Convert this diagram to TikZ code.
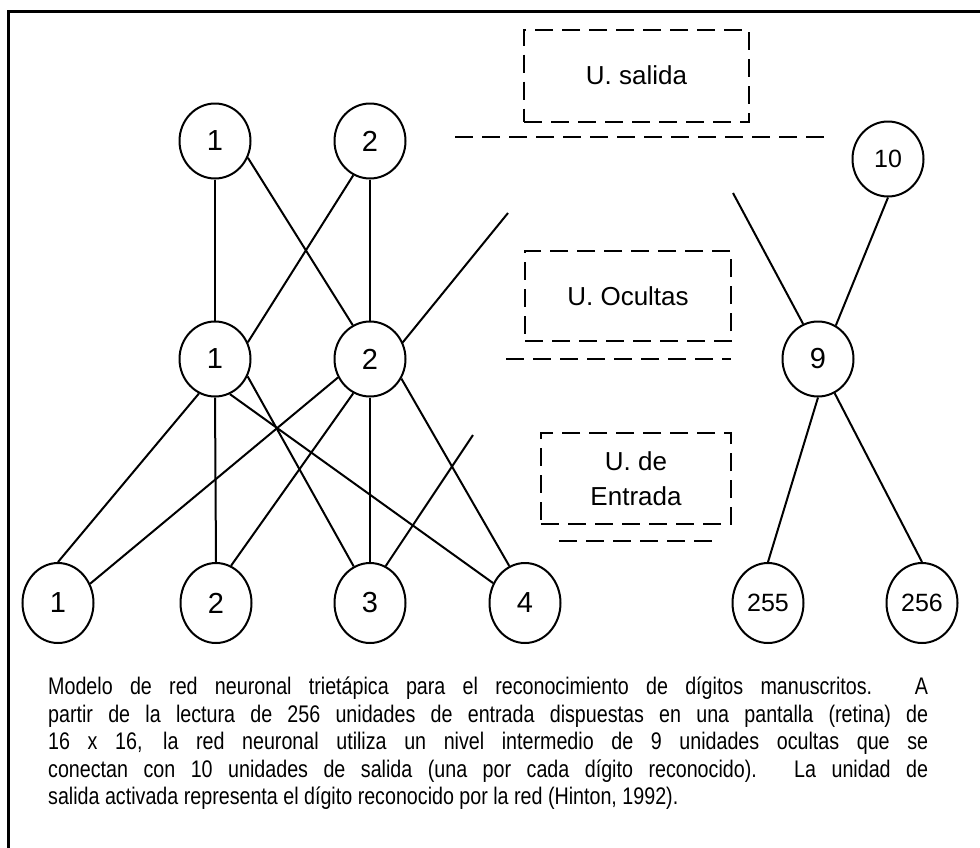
\documentclass[tikz,border=0pt]{standalone}
\usepackage{fontspec}
\setmainfont{Liberation Sans}
\newfontfamily\capfont[FakeStretch=0.82]{Liberation Sans}
\usetikzlibrary{shapes.geometric}
\begin{document}
\begin{tikzpicture}[x=1pt,y=-1pt,
  neuron/.style={ellipse,draw,line width=2pt,minimum width=71pt,minimum height=75pt,inner sep=0pt,font=\fontsize{29}{29}\selectfont},
  inneuron/.style={neuron,minimum height=80pt},
  smalllabel/.style={font=\fontsize{25}{25}\selectfont},
  conn/.style={line width=2pt},
  dashbox/.style={draw,line width=2pt,dash pattern=on 18pt off 9pt,inner sep=0pt,font=\fontsize{26}{35}\selectfont,align=center},
  dashline/.style={line width=2pt,dash pattern=on 18pt off 9pt},
  frame/.style={line width=3pt}
]
\useasboundingbox (0,0) rectangle (980,847);
\fill[white] (0,0) rectangle (980,847);
\draw[frame] (983,11) -- (8,11) -- (8,850);

% output layer
\node[neuron] (t1) at (215,141) {1};
\node[neuron] (t2) at (370,141) {2};
\node[neuron,smalllabel] (o10) at (888,159) {10};
% hidden layer
\node[neuron] (h1) at (215,359) {1};
\node[neuron] (h2) at (370,359) {2};
\node[neuron] (h9) at (818,359) {9};
% input layer
\node[inneuron] (i1) at (58,603) {1};
\node[inneuron] (i2) at (216,603) {2};
\node[inneuron] (i3) at (370,603) {3};
\node[inneuron] (i4) at (525,603) {4};
\node[inneuron,smalllabel] (i255) at (768,603) {255};
\node[inneuron,smalllabel] (i256) at (922,603) {256};

% dashed boxes
\node[dashbox,minimum width=225pt,minimum height=92pt] (bs) at (636.5,75.5) {U. salida};
\node[dashbox,minimum width=206pt,minimum height=90pt] (bo) at (628,296) {U. Ocultas};
\node[dashbox,minimum width=190pt,minimum height=91pt] (be) at (636,478.5) {U. de\\Entrada};
\draw[dashline] (455,137) -- (827,137);
\draw[dashline] (506,359) -- (731,359);
\draw[dashline] (559,541) -- (715,541);

% free ends
\coordinate (f1) at (508,213);
\coordinate (f2) at (733,193);
\coordinate (f3) at (473,435);

% connectors output-hidden
\draw[conn] (t1.south) -- (h1.north);
\draw[conn] (t1.-27) -- (h2.117);
\draw[conn] (t2.-116) -- (h1.27);
\draw[conn] (t2.south) -- (h2.north);
\draw[conn] (h2.27) -- (f1);
\draw[conn] (o10.south) -- (h9.62);
\draw[conn] (f2) -- (h9.113);
% hidden-input
\draw[conn] (h1.-115) -- (i1.north);
\draw[conn] (h1.south) -- (i2.north);
\draw[conn] (h1.-28) -- (i3.114);
\draw[conn] (h1.-67) -- (i4.148);
\draw[conn] (h2.-150) -- (i1.31);
\draw[conn] (h2.-116) -- (i2.68);
\draw[conn] (h2.south) -- (i3.north);
\draw[conn] (h2.-32) -- (i4.113);
\draw[conn] (i3.67) -- (f3);
\draw[conn] (h9.south) -- (i255.north);
\draw[conn] (h9.-64) -- (i256.north);

% caption
\node[anchor=north west,inner sep=0pt,text width=880pt,align=justify,font=\capfont\fontsize{24}{27.5}\selectfont] (cap) at (48,677)
{Modelo de red neuronal trietápica para el reconocimiento de dígitos manuscritos. A\linebreak
partir de la lectura de 256 unidades de entrada dispuestas en una pantalla (retina) de\linebreak
16 x 16, la red neuronal utiliza un nivel intermedio de 9 unidades ocultas que se\linebreak
conectan con 10 unidades de salida (una por cada dígito reconocido). La unidad de\linebreak
salida activada representa el dígito reconocido por la red (Hinton, 1992).};
\end{tikzpicture}
\end{document}
